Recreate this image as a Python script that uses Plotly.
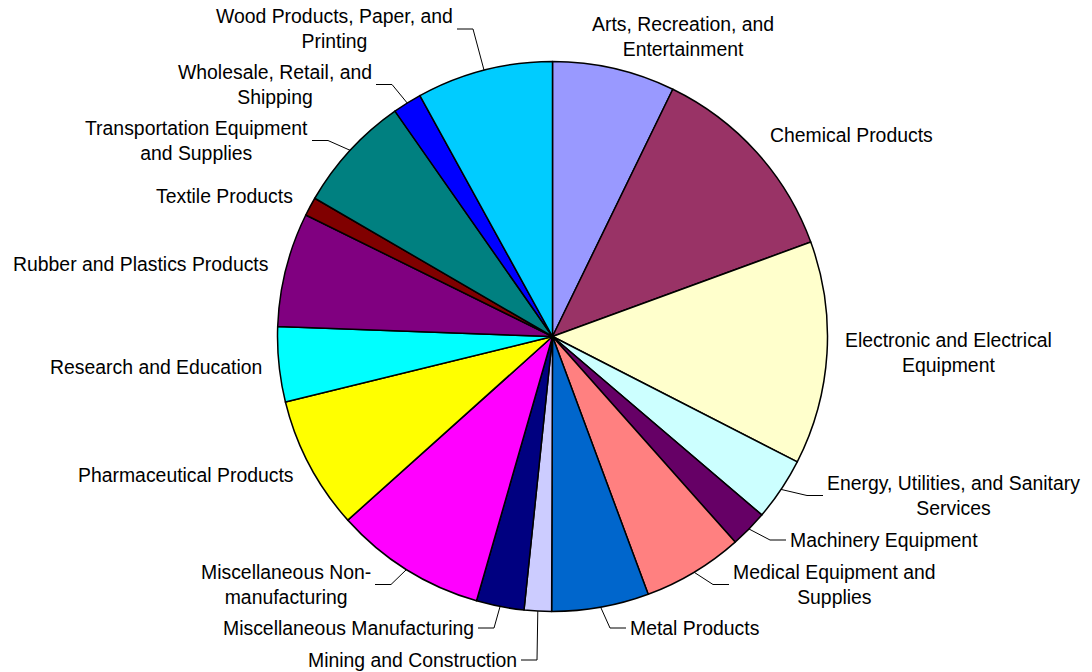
import math
import plotly.graph_objects as go

# Industry shares (percent of total)
categories = [
    "Arts, Recreation, and Entertainment",
    "Chemical Products",
    "Electronic and Electrical Equipment",
    "Energy, Utilities, and Sanitary Services",
    "Machinery Equipment",
    "Medical Equipment and Supplies",
    "Metal Products",
    "Mining and Construction",
    "Miscellaneous Manufacturing",
    "Miscellaneous Non-manufacturing",
    "Pharmaceutical Products",
    "Research and Education",
    "Rubber and Plastics Products",
    "Textile Products",
    "Transportation Equipment and Supplies",
    "Wholesale, Retail, and Shipping",
    "Wood Products, Paper, and Printing",
]
shares = [7.2, 12.2, 13.1, 3.7, 2.2, 5.9, 5.7, 1.6, 2.8, 8.9,
          7.8, 4.4, 6.7, 1.1, 6.9, 1.7, 8.0]

# Wrapped label text as shown beside the pie
label_text = [
    "Arts, Recreation, and<br>Entertainment",
    "Chemical Products",
    "Electronic and Electrical<br>Equipment",
    "Energy, Utilities, and Sanitary<br>Services",
    "Machinery Equipment",
    "Medical Equipment and<br>Supplies",
    "Metal Products",
    "Mining and Construction",
    "Miscellaneous Manufacturing",
    "Miscellaneous Non-<br>manufacturing",
    "Pharmaceutical Products",
    "Research and Education",
    "Rubber and Plastics Products",
    "Textile Products",
    "Transportation Equipment<br>and Supplies",
    "Wholesale, Retail, and<br>Shipping",
    "Wood Products, Paper, and<br>Printing",
]

colors = ["#9999FF", "#993366", "#FFFFCC", "#CCFFFF", "#660066", "#FF8080",
          "#0066CC", "#CCCCFF", "#000080", "#FF00FF", "#FFFF00", "#00FFFF",
          "#800080", "#800000", "#008080", "#0000FF", "#00CCFF"]

# ---- layout ----
W, H = 1092, 672
CX, CY, R = 552.5, 336.5, 275.0
FONT = dict(family="Arial, Liberation Sans, sans-serif", size=19.4, color="#000000")
GAP, ARM = 4, 16

# Label placement: (edge x px, block centre y px, xanchor, draw leader)
label_place = [
    (683, 36, "center", False),
    (770, 135, "left", False),
    (845, 352, "left", False),
    (827, 495.5, "left", True),
    (790, 540, "left", True),
    (733, 584.5, "left", True),
    (630, 628, "left", True),
    (517, 660, "right", True),
    (474, 628, "right", True),
    (371, 584.5, "right", True),
    (294, 475, "right", False),
    (262, 367, "right", False),
    (268, 264, "right", False),
    (293, 196, "right", False),
    (308, 140.5, "right", True),
    (372, 84.5, "right", True),
    (453, 29, "right", True),
]


def px(x):
    return x / W


def py(y):
    return 1 - y / H


fig = go.Figure(
    go.Pie(
        labels=categories,
        values=shares,
        sort=False,
        direction="clockwise",
        rotation=0,
        textinfo="none",
        hoverinfo="label+percent",
        marker=dict(colors=colors, line=dict(color="#000000", width=1.5)),
        domain=dict(x=[px(CX - R), px(CX + R)], y=[py(CY + R), py(CY - R)]),
        showlegend=False,
    )
)

total = sum(shares)
cum = 0.0
annotations = []
shapes = []
for val, txt, (ex, ey, anchor, leader) in zip(shares, label_text, label_place):
    mid = (cum + val / 2) / total
    cum += val
    theta = 2 * math.pi * mid
    rx = CX + R * math.sin(theta)
    ry = CY - R * math.cos(theta)
    annotations.append(dict(
        x=px(ex), y=py(ey), xref="paper", yref="paper",
        text=txt, showarrow=False, xanchor=anchor, yanchor="middle",
        align="center", font=FONT, borderpad=0, borderwidth=0,
    ))
    if leader:
        d = -1 if anchor == "left" else 1
        elbow_x = ex + d * (GAP + ARM)
        end_x = ex + d * GAP
        path = (f"M {px(rx)},{py(ry)} L {px(elbow_x)},{py(ey)} "
                f"L {px(end_x)},{py(ey)}")
        shapes.append(dict(type="path", xref="paper", yref="paper", path=path,
                           line=dict(color="#000000", width=1)))

fig.update_layout(
    width=W, height=H,
    margin=dict(l=0, r=0, t=0, b=0),
    paper_bgcolor="white",
    plot_bgcolor="white",
    annotations=annotations,
    shapes=shapes,
)

fig.write_html("out.html")
